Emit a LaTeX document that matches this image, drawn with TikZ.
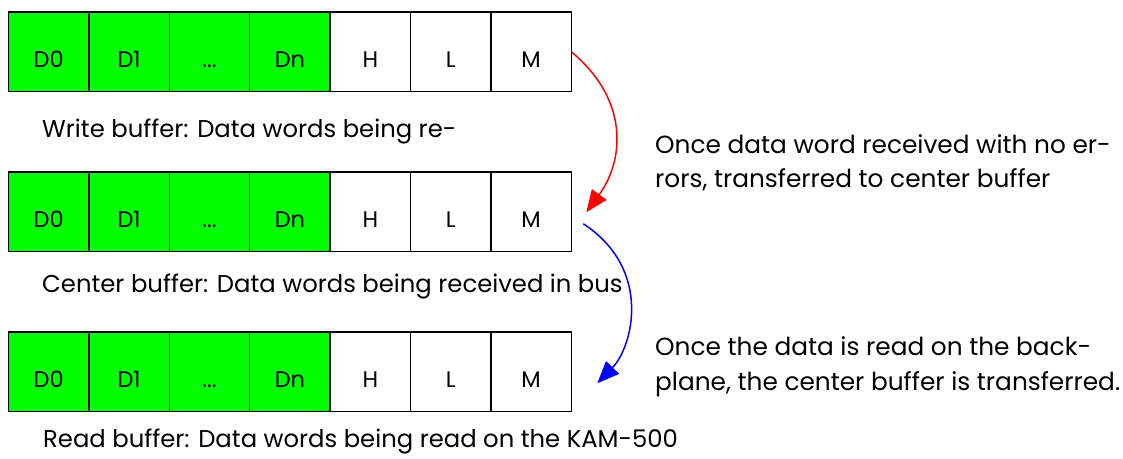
\documentclass[tikz,border=0pt]{standalone}
\usepackage{fontspec}
\setmainfont{Poppins}
\usetikzlibrary{arrows.meta}
\definecolor{cgreen}{RGB}{0,255,0}
\newcommand\mybufrow[2]{%
  \node[dcell] (#1a) at (8.5,#2) {D0};
  \node[dcell] (#1b) at (#1a.north east) {D1};
  \node[dcell] (#1c) at (#1b.north east) {...};
  \node[dcell] (#1d) at (#1c.north east) {Dn};
  \node[hcell] (#1e) at (#1d.north east) {H};
  \node[hcell] (#1f) at (#1e.north east) {L};
  \node[hcell] (#1g) at (#1f.north east) {M};
}
\begin{document}
\begin{tikzpicture}[x=1pt,y=-1pt,
  cell/.style={draw=black, line width=1.4pt, minimum width=80.4pt, minimum height=79.5pt,
    inner sep=0pt, outer sep=0pt, anchor=north west, text height=32pt, text depth=0pt,
    font=\fontsize{22.5}{26}\selectfont},
  dcell/.style={cell, fill=cgreen},
  hcell/.style={cell, fill=white},
  txt/.style={font=\fontsize{24.3}{28}\selectfont, anchor=base west, inner sep=0pt},
  rtxt/.style={font=\fontsize{24.8}{28}\selectfont, anchor=base west, inner sep=0pt},
  arr/.style={line width=1.5pt, -{Triangle[length=22pt,width=18pt]}}
]
\fill[white] (0,0) rectangle (1123,458);
\useasboundingbox (0,0) rectangle (1123,458);
\mybufrow{w}{12}
\mybufrow{c}{172}
\mybufrow{r}{332}
\node[txt] (wt) at (42,137) {Write buffer: Data words being re-};
\node[txt] (ct) at (42,292) {Center buffer: Data words being received in bus};
\node[txt] (rt) at (43,447) {Read buffer: Data words being read on the KAM-500};
\node[rtxt] (n1a) at (655,153) {Once data word received with no er-};
\node[rtxt] (n1b) at (655,187) {rors, transferred to center buffer};
\node[rtxt] (n2a) at (655,355) {Once the data is read on the back-};
\node[rtxt] (n2b) at (655,390) {plane, the center buffer is transferred.};
\coordinate (rend) at ([xshift=15pt,yshift=-0.5pt]cg.east);
\coordinate (bstart) at ([xshift=12pt,yshift=-12pt]cg.east);
\coordinate (bend) at ([xshift=26pt,yshift=-11.5pt]rg.east);
\draw[arr, red] (wg.east) .. controls +(58,48) and +(38,-52) .. (rend);
\draw[arr, blue] (bstart) .. controls +(70,46) and +(35,-36) .. (bend);
\end{tikzpicture}
\end{document}
